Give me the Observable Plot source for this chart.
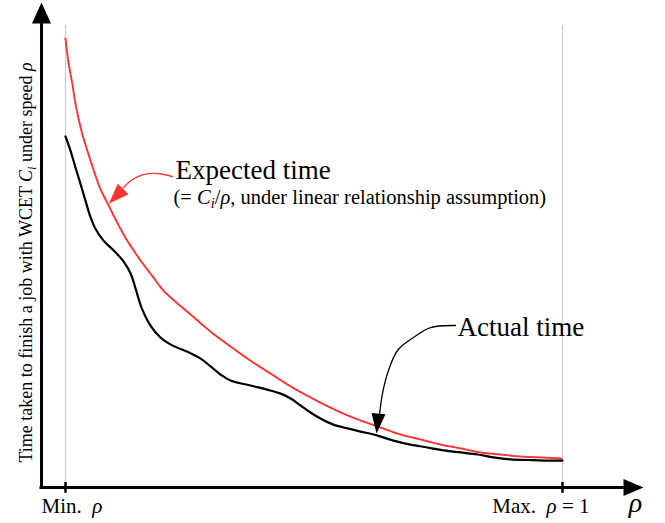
<!DOCTYPE html>
<html><head><meta charset="utf-8">
<script src="https://cdn.jsdelivr.net/npm/d3@7"></script>
<script src="https://cdn.jsdelivr.net/npm/@observablehq/plot@0.6"></script>
<style>body{margin:0;background:#fff} svg{display:block} svg text{font-family:'Liberation Serif',serif}</style>
</head><body><div id="chart"></div>
<script>
// speed position: 0 = Min. rho, 1 = Max. rho = 1 ; time in units of C_i
const speedExpected = [0,0.006,0.014,0.020,0.032,0.044,0.057,0.070,0.087,0.104,0.124,0.151,0.177,0.197,0.221,0.252,0.292,0.332,0.372,0.412,0.453,0.493,0.533,0.573,0.634,0.674,0.714,0.755,0.795,0.835,0.875,0.915,0.956,1.0];
const timeExpected  = [15.50,14.67,13.91,13.26,12.32,11.63,10.94,10.32,9.73,9.15,8.53,7.84,7.25,6.80,6.42,5.97,5.38,4.87,4.38,3.94,3.49,3.11,2.76,2.45,2.07,1.83,1.66,1.48,1.35,1.21,1.14,1.07,1.04,1.00];
const speedActual = [0,0.010,0.020,0.030,0.040,0.050,0.060,0.076,0.097,0.117,0.131,0.141,0.153,0.171,0.191,0.211,0.252,0.272,0.292,0.312,0.332,0.372,0.412,0.433,0.453,0.473,0.493,0.513,0.539,0.567,0.594,0.628,0.660,0.694,0.728,0.761,0.795,0.829,0.861,0.895,0.930,0.962,1.0];
const timeActual  = [12.12,11.63,11.05,10.49,9.91,9.35,8.94,8.53,8.18,7.80,7.39,6.87,6.21,5.59,5.18,4.94,4.63,4.45,4.18,3.90,3.69,3.52,3.35,3.24,3.07,2.83,2.59,2.38,2.17,2.04,1.93,1.79,1.62,1.48,1.38,1.28,1.21,1.14,1.04,0.97,0.95,0.93,0.93];

const tickSpeeds = [0, 1];
const tickLabels = ["Min. ρ", "Max. ρ = 1"];
const yLabel = "Time taken to finish a job with WCET Ci under speed ρ";
const expectedLabel = "Expected time";
const expectedNote = "(= Ci/ρ, under linear relationship assumption)";
const actualLabel = "Actual time";
const axisTitleX = "ρ";

// annotation anchor points (data units)
const expectedArrowU = [0.2153,0.1851,0.1569,0.1348,0.1167];
const expectedArrowV = [10.735,10.839,10.804,10.632,10.356];
const actualArrowU = [0.7847,0.7344,0.7002,0.6680,0.6479,0.6378,0.6318];
const actualArrowV = [5.592,5.523,5.178,4.729,3.935,3.245,2.520];

const axisLeft = -0.0483, axisRightEnd = 1.125, axisTip = 1.163;
const axisTop = 16.10, axisTopTip = 16.74, gridTop = 15.95;

const expData = speedExpected.map((s,i)=>({s, t: timeExpected[i]}));
const actData = speedActual.map((s,i)=>({s, t: timeActual[i]}));
const expArrow = expectedArrowU.map((s,i)=>({s, t: expectedArrowV[i]}));
const actArrow = actualArrowU.map((s,i)=>({s, t: actualArrowV[i]}));

function arrowhead(L, w) {
  return {draw(ctx){ ctx.moveTo(0,0); ctx.lineTo(-w/2, L); ctx.lineTo(w/2, L); ctx.closePath(); }};
}
const RED = "#ff3333";
const serif = "Liberation Serif";

const svg = Plot.plot({
  width: 665, height: 523,
  marginLeft: 65, marginRight: 103, marginTop: 38, marginBottom: 36,
  x: {domain: [0, 1], axis: null},
  y: {domain: [0, 15.5], axis: null},
  style: {fontFamily: "'Liberation Serif', serif", background: "#fff", color: "#000"},
  marks: [
    Plot.ruleX(tickSpeeds, {y1: 0, y2: gridTop, stroke: "#cfcfcf", strokeWidth: 1.3}),
    Plot.ruleX([axisLeft], {y1: -0.05, y2: axisTop, stroke: "#000", strokeWidth: 3}),
    Plot.ruleY([0], {x1: axisLeft - 0.003, x2: axisRightEnd, stroke: "#000", strokeWidth: 3}),
    Plot.ruleX(tickSpeeds, {y1: -0.2, y2: 0.17, stroke: "#000", strokeWidth: 2.5}),
    Plot.dot([{s: axisLeft, t: axisTopTip}], {x: "s", y: "t", symbol: arrowhead(21, 19), fill: "#000", stroke: "none", rotate: 0}),
    Plot.dot([{s: axisTip, t: 0}], {x: "s", y: "t", symbol: arrowhead(20, 17), fill: "#000", stroke: "none", rotate: 90}),
    Plot.line(expData, {x: "s", y: "t", curve: "catmull-rom", stroke: RED, strokeWidth: 2, strokeDasharray: "1.6 1.5"}),
    Plot.line(actData, {x: "s", y: "t", curve: "catmull-rom", stroke: "#000", strokeWidth: 2.2}),
    Plot.line(expArrow, {x: "s", y: "t", curve: "catmull-rom", stroke: RED, strokeWidth: 1.3}),
    Plot.dot([{s: 0.0871, t: 9.793}], {x: "s", y: "t", symbol: arrowhead(20.7, 15), fill: RED, stroke: "none", rotate: -136}),
    Plot.line(actArrow, {x: "s", y: "t", curve: "catmull-rom", stroke: "#000", strokeWidth: 1.3}),
    Plot.dot([{s: 0.6258, t: 1.864}], {x: "s", y: "t", symbol: arrowhead(20, 14), fill: "#000", stroke: "none", rotate: 185.7}),
    Plot.text([expectedLabel], {x: 0.2213, y: 10.666, text: d => d, textAnchor: "start", lineAnchor: "bottom", fontSize: 27, fontFamily: serif, fill: "#000"}),
    Plot.text([expectedNote], {x: 0.2173, y: 9.80, text: d => d, textAnchor: "start", lineAnchor: "bottom", fontSize: 20.5, fontFamily: serif, fill: "#000"}),
    Plot.text([actualLabel], {x: 0.7887, y: 5.247, text: d => d, textAnchor: "start", lineAnchor: "bottom", fontSize: 27, fontFamily: serif, fill: "#000"}),
    Plot.text([tickLabels[0]], {x: axisLeft, y: -0.8975, text: d => d, textAnchor: "start", lineAnchor: "bottom", fontSize: 21, fontFamily: serif, fill: "#000"}),
    Plot.text([tickLabels[1]], {x: 1.0543, y: -0.8975, text: d => d, textAnchor: "end", lineAnchor: "bottom", fontSize: 21, fontFamily: serif, fill: "#000"}),
    Plot.text([axisTitleX], {x: 1.1469, y: -0.863, text: d => d, textAnchor: "middle", lineAnchor: "bottom", fontSize: 28, fontStyle: "italic", fontFamily: serif, fill: "#000"}),
    Plot.text([yLabel], {x: -0.0785, y: 7.77, text: d => d, rotate: -90, textAnchor: "middle", lineAnchor: "middle", fontSize: 18, fontFamily: serif, fill: "#000"})
  ]
});

// rich text: italics and subscripts
const NS = "http://www.w3.org/2000/svg";
const rich = {
  [expectedNote]: [20.5, [["(= "], ["C","i"], ["_i","sub"], ["/"], ["ρ","i"], [", under linear relationship assumption)"]]],
  [yLabel]: [18, [["Time taken to finish a job with WCET "], ["C","i"], ["_i","sub"], [" under speed "], ["ρ","i"]]],
  [tickLabels[0]]: [21, [["Min.\u2002"], ["ρ","i"]]],
  [tickLabels[1]]: [21, [["Max.\u2002"], ["ρ","i"], [" = 1"]]]
};
svg.querySelectorAll("text").forEach(t => {
  const r = rich[t.textContent];
  if (!r) return;
  const [fs, parts] = r;
  t.textContent = "";
  let down = 0;
  parts.forEach(([txt, kind]) => {
    const ts = document.createElementNS(NS, "tspan");
    ts.setAttribute("font-family", "'Liberation Serif', serif");
    if (kind === "sub") {
      ts.textContent = txt.slice(1);
      ts.setAttribute("font-style", "italic");
      ts.setAttribute("font-size", (fs*0.7).toFixed(1));
      ts.setAttribute("dy", (fs*0.22).toFixed(1));
      down = fs*0.22;
    } else {
      ts.textContent = txt;
      if (kind === "i") ts.setAttribute("font-style", "italic");
      if (down) { ts.setAttribute("dy", (-down).toFixed(1)); down = 0; }
    }
    t.appendChild(ts);
  });
});
document.getElementById("chart").appendChild(svg);
</script>
</body></html>
